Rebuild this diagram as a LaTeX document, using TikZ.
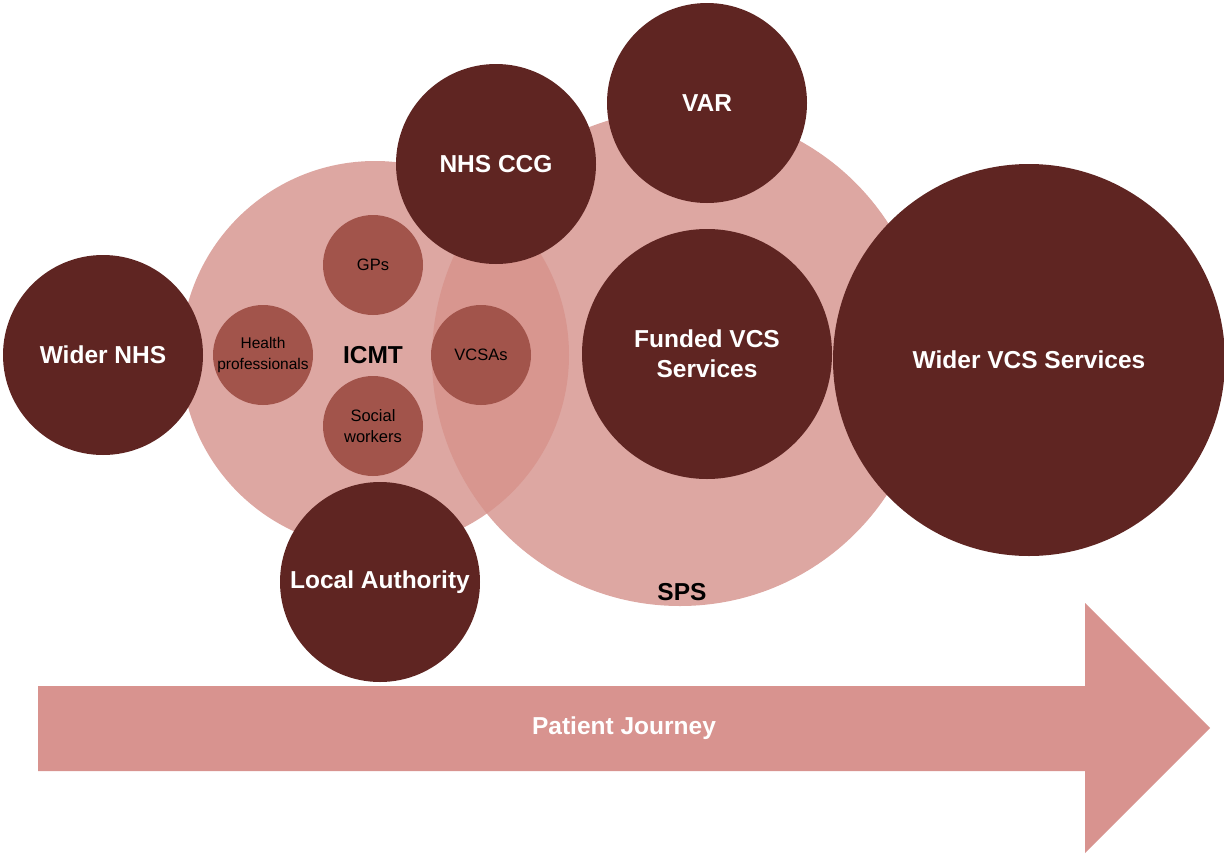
\documentclass[tikz,border=0pt]{standalone}
\usepackage{fontspec}
\setmainfont{Liberation Sans}
\definecolor{dark}{HTML}{5F2522}
\definecolor{mid}{HTML}{A2544B}
\definecolor{light}{HTML}{DDA7A2}
\definecolor{overlap}{HTML}{D8968F}
\definecolor{arrowc}{HTML}{D8938F}
\begin{document}
\begin{tikzpicture}[x=1pt,y=-1pt,
  bigc/.style={circle,fill=dark,text=white,font=\bfseries\fontsize{24.5}{28}\selectfont,align=center,inner sep=0pt},
  smallc/.style={circle,fill=mid,text=black,minimum size=100pt,inner sep=0pt,align=center},
  lbl/.style={font=\bfseries\fontsize{24.5}{28}\selectfont,text=black}]
\useasboundingbox (0,0) rectangle (1224,854);
% large translucent groups
\fill[light] (375,355) circle (194);
\fill[light] (680,358) circle (248);
\begin{scope}
  \clip (375,355) circle (194);
  \fill[overlap] (680,358) circle (248);
\end{scope}
\node[lbl] (icmt) at (373,355) {ICMT};
\node[lbl] (sps) at (682,592) {SPS};
% small circles
\node[smallc,font=\fontsize{16.5}{19}\selectfont] (gps) at (373,265) {GPs};
\node[smallc,font=\fontsize{15.5}{21}\selectfont] (hp) at (263,355) {Health\\professionals};
\node[smallc,font=\fontsize{16.5}{19}\selectfont] (vcsa) at (481,355) {VCSAs};
\node[smallc,font=\fontsize{16.5}{21.5}\selectfont] (sw) at (373,426) {Social\\workers};
% dark circles
\node[bigc,minimum size=200pt] (wnhs) at (103,355) {Wider NHS};
\node[bigc,minimum size=200pt] (ccg) at (496,164) {NHS CCG};
\node[bigc,minimum size=200pt] (var) at (707,103) {VAR};
\node[bigc,minimum size=250pt,font=\bfseries\fontsize{24.5}{30}\selectfont] (fvcs) at (707,354) {Funded VCS\\Services};
\node[bigc,minimum size=392pt] (wvcs) at (1029,360) {Wider VCS Services};
\node[bigc,minimum size=200pt] (la) at (380,582) {Local Authority};
% arrow
\fill[arrowc] (38,686) -- (1085,686) -- (1085,603) -- (1210,728) -- (1085,853) -- (1085,771) -- (38,771) -- cycle;
\node[text=white,font=\bfseries\fontsize{24.5}{28}\selectfont] (pj) at (624,728) {Patient Journey};
\end{tikzpicture}
\end{document}
